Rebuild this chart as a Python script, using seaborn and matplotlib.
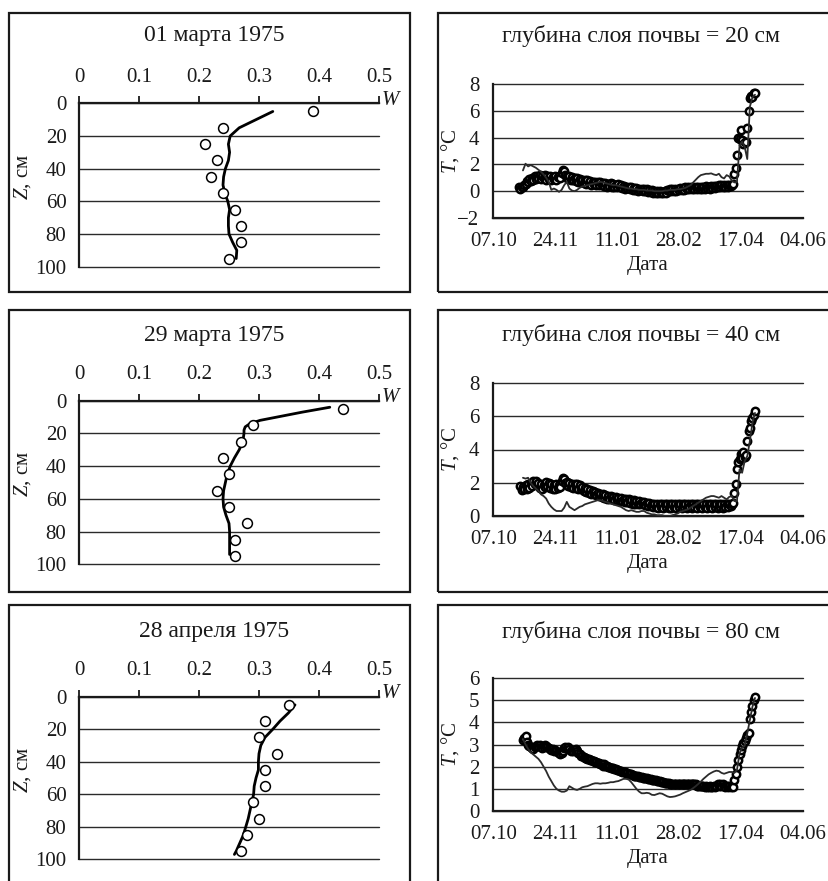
"""
Профили влажности почвы и температура почвы на глубинах 20, 40 и 80 см
"""

import numpy as np
import pandas as pd
import matplotlib
matplotlib.use("Agg")
import matplotlib.pyplot as plt
from matplotlib.patches import Rectangle
import seaborn as sns

nan = np.nan

# ---------------- профили влажности W(Z) ----------------
depth_obs = [5, 15, 25, 35, 45, 55, 65, 75, 85, 95]

W_obs_0103 = [0.39, 0.24, 0.21, 0.23, 0.22, 0.24, 0.26, 0.27, 0.27, 0.25]
W_obs_2903 = [0.44, 0.29, 0.27, 0.24, 0.25, 0.23, 0.25, 0.28, 0.26, 0.26]
W_obs_2804 = [0.35, 0.31, 0.30, 0.33, 0.31, 0.31, 0.29, 0.30, 0.28, 0.27]

depth_model_0103 = [5, 10, 15, 20, 25, 30, 35, 40, 45, 50,
                    55, 60, 65, 70, 75, 80, 85, 90, 95]
W_model_0103 = [0.323, 0.295, 0.267, 0.252, 0.249, 0.251, 0.249, 0.244, 0.241, 0.240,
                0.243, 0.248, 0.251, 0.249, 0.249, 0.250, 0.256, 0.263, 0.262]

depth_model_2903 = [4, 7, 10, 12, 14, 16, 18, 20, 25, 30, 35, 40,
                    45, 50, 55, 60, 65, 70, 75, 80, 85, 90, 94]
W_model_2903 = [0.418, 0.372, 0.330, 0.302, 0.285, 0.277, 0.275, 0.275, 0.273, 0.267,
                0.259, 0.252, 0.247, 0.244, 0.241, 0.240, 0.241, 0.245, 0.250, 0.251,
                0.251, 0.251, 0.251]

depth_model_2804 = [5, 10, 15, 20, 25, 30, 35, 40, 45, 50,
                    55, 60, 65, 70, 75, 80, 85, 90, 95, 97]
W_model_2804 = [0.360, 0.349, 0.335, 0.323, 0.310, 0.303, 0.300, 0.299, 0.299, 0.295,
                0.292, 0.291, 0.288, 0.285, 0.282, 0.278, 0.274, 0.268, 0.262, 0.259]

profile_titles = ["01 марта 1975", "29 марта 1975", "28 апреля 1975"]
w_ticks = [0, 0.1, 0.2, 0.3, 0.4, 0.5]
w_tick_labels = ["0", "0.1", "0.2", "0.3", "0.4", "0.5"]
z_ticks = [0, 20, 40, 60, 80, 100]

# ---------------- температура почвы T(t) ----------------
obs_dates = pd.date_range("1974-10-27", "1975-04-28", freq="D")
model_dates = pd.date_range("1974-10-30", "1975-04-28", freq="2D")

T20_obs = (
    [0.3, 0.2, 0.35, 0.3, 0.5]
    + [0.55, 0.75, 0.65, 0.9, 0.75, 1.0, 0.85, 1.1, 0.9, 1.15,
       0.95, 1.2, 0.9, 1.15, 0.95, 1.2, 0.85, 1.1, 0.9, 1.15,
       0.85, 1.05, 0.9, 1.1, 0.85, 1.05, 1.15, 1.0, 1.35, 1.6]
    + [1.5, 1.2, 1.1, 0.9, 1.15, 0.85, 1.05, 0.8, 1.0, 0.75,
       0.95, 0.7, 0.9, 0.65, 0.85, 0.6, 0.8, 0.55, 0.8, 0.6,
       0.75, 0.5, 0.7, 0.55, 0.7, 0.45, 0.65, 0.5, 0.65, 0.45, 0.6]
    + [0.4, 0.6, 0.35, 0.55, 0.4, 0.6, 0.35, 0.55, 0.3, 0.5,
       0.35, 0.55, 0.3, 0.45, 0.25, 0.4, 0.2, 0.35, 0.25, 0.35,
       0.15, 0.3, 0.1, 0.25, 0.1, 0.25, 0.05, 0.2, 0.1, 0.2, 0.0]
    + [0.15, 0.0, 0.15, -0.05, 0.1, -0.05, 0.1, -0.1, 0.05, -0.1,
       0.05, -0.15, 0.0, -0.15, -0.05, -0.15, 0.05, -0.1, 0.1, 0.0,
       0.15, 0.0, 0.15, 0.05, 0.2, 0.05, 0.2, 0.1]
    + [0.25, 0.1, 0.25, 0.1, 0.3, 0.15, 0.3, 0.15, 0.3, 0.15,
       0.3, 0.2, 0.35, 0.2, 0.35, 0.2, 0.35, 0.2, 0.35, 0.2,
       0.4, 0.25, 0.35, 0.2, 0.4, 0.25, 0.4, 0.25, 0.4, 0.3, 0.45]
    + [0.3, 0.45, 0.3, 0.45, 0.35, 0.5, 0.35, 0.5, 0.4, 0.45,
       0.55, 1.25, 1.75, 2.7, 4.0, 3.9, 4.6, 3.8, 3.5, 3.7,
       3.65, 4.7, 6.0, 6.95, 7.1, 7.0, 7.3, 7.35]
)
T20_model = (
    [1.55]
    + [2.05, 1.85, 1.95, 1.85, 1.75, 1.6, 1.45, 1.25, 1.0, 0.7,
       0.1, 0.2, 0.1, -0.05, 0.1]
    + [0.45, 0.7, 0.2, 0.05, 0.0, 0.1, 0.25, 0.35, 0.4, 0.45,
       0.5, 0.55, 0.6, 0.65, 0.7, 0.65]
    + [0.6, 0.55, 0.5, 0.45, 0.45, 0.4, 0.35, 0.3, 0.25, 0.2,
       0.2, 0.15, 0.15, 0.1, 0.1]
    + [0.1, 0.05, 0.05, 0.05, 0.0, 0.0, 0.0, 0.0, 0.05, 0.05,
       0.1, 0.1, 0.1, 0.15]
    + [0.15, 0.2, 0.25, 0.35, 0.45, 0.65, 0.85, 1.05, 1.2, 1.25,
       1.3, 1.3, 1.33, 1.25, 1.2, 1.3]
    + [1.05, 0.95, 1.2, 1.1, 0.8, 0.65, 0.7, 3.4, 3.7, 3.3,
       2.4, 6.3, 7.0, 7.2]
)

T40_obs = (
    [nan, 1.8, 1.55, 1.75, 1.6]
    + [1.85, 1.65, 1.9, 1.7, 2.0, 1.8, 2.1, 1.9, 2.1, 1.85,
       2.0, 1.7, 1.9, 1.6, 1.85, 1.75, 2.05, 1.8, 2.0, 1.7,
       1.9, 1.6, 1.85, 1.65, 1.9, 1.7, 1.85, 1.75, 2.1, 2.3]
    + [2.25, 2.0, 2.05, 1.8, 2.0, 1.75, 1.95, 1.7, 1.9, 1.7,
       1.9, 1.65, 1.85, 1.6, 1.75, 1.5, 1.7, 1.45, 1.6, 1.4,
       1.55, 1.35, 1.5, 1.3, 1.45, 1.25, 1.4, 1.2, 1.35, 1.15, 1.3]
    + [1.1, 1.25, 1.05, 1.2, 1.0, 1.2, 1.0, 1.15, 0.95, 1.15,
       0.95, 1.1, 0.9, 1.1, 0.9, 1.05, 0.85, 1.0, 0.85, 1.0,
       0.8, 0.95, 0.75, 0.95, 0.75, 0.9, 0.7, 0.9, 0.7, 0.85, 0.7]
    + [0.85, 0.65, 0.8, 0.6, 0.8, 0.6, 0.75, 0.55, 0.75, 0.55,
       0.75, 0.5, 0.7, 0.55, 0.7, 0.5, 0.7, 0.55, 0.7, 0.5,
       0.7, 0.5, 0.7, 0.55, 0.7, 0.5, 0.7, 0.55]
    + [0.7, 0.5, 0.75, 0.55, 0.7, 0.5, 0.75, 0.55, 0.7, 0.5,
       0.7, 0.55, 0.75, 0.5, 0.7, 0.55, 0.75, 0.5, 0.7, 0.55,
       0.75, 0.5, 0.7, 0.55, 0.75, 0.5, 0.7, 0.55, 0.75, 0.5, 0.7]
    + [0.55, 0.75, 0.5, 0.7, 0.55, 0.75, 0.55, 0.7, 0.6, 0.75,
       0.8, 1.4, 1.95, 2.8, 3.25, 3.4, 3.7, 3.5, 3.85, 3.55,
       3.65, 4.5, 5.1, 5.3, 5.7, 5.9, 6.1, 6.3]
)
T40_model = (
    [2.3]
    + [2.25, 2.3, 2.0, 1.8, 1.65, 1.5, 1.3, 1.2, 1.05, 0.75,
       0.55, 0.4, 0.3, 0.3, 0.3]
    + [0.5, 0.85, 0.55, 0.45, 0.35, 0.45, 0.55, 0.6, 0.7, 0.75,
       0.8, 0.85, 0.9, 0.95, 0.95, 0.9]
    + [0.85, 0.8, 0.75, 0.7, 0.65, 0.6, 0.55, 0.45, 0.35, 0.3,
       0.35, 0.3, 0.25, 0.25, 0.3]
    + [0.3, 0.2, 0.15, 0.1, 0.1, 0.05, 0.05, 0.05, 0.0, 0.0,
       0.0, 0.05, 0.1, 0.15]
    + [0.25, 0.3, 0.35, 0.4, 0.5, 0.6, 0.7, 0.8, 0.9, 1.0,
       1.1, 1.15, 1.2, 1.2, 1.15, 1.1]
    + [1.2, 1.1, 1.0, 1.15, 1.2, 0.9, 0.9, 2.8, 2.6, 3.3,
       3.6, 4.5, 5.6, 6.2]
)

T80_obs = (
    [nan, nan, nan, 3.2, 3.3]
    + [3.4, 3.1, 3.0, 2.95, 2.9, 2.85, 2.8, 2.9, 2.95, 3.0,
       2.95, 3.0, 2.9, 2.85, 2.9, 3.0, 2.95, 2.9, 2.85, 2.8,
       2.75, 2.8, 2.7, 2.75, 2.7, 2.65, 2.6, 2.55, 2.6, 2.7]
    + [2.85, 2.9, 2.85, 2.9, 2.8, 2.7, 2.75, 2.7, 2.75, 2.8,
       2.7, 2.6, 2.55, 2.5, 2.5, 2.45, 2.4, 2.4, 2.35, 2.35,
       2.3, 2.3, 2.25, 2.25, 2.2, 2.2, 2.15, 2.15, 2.1, 2.1, 2.05]
    + [2.1, 2.05, 2.05, 2.0, 2.0, 1.95, 1.95, 1.93, 1.9, 1.88,
       1.85, 1.83, 1.8, 1.8, 1.78, 1.76, 1.75, 1.72, 1.7, 1.68,
       1.66, 1.65, 1.63, 1.6, 1.6, 1.58, 1.57, 1.55, 1.53, 1.52, 1.5]
    + [1.5, 1.48, 1.47, 1.46, 1.44, 1.43, 1.42, 1.4, 1.4, 1.39,
       1.37, 1.35, 1.34, 1.32, 1.3, 1.3, 1.28, 1.27, 1.26, 1.25,
       1.23, 1.22, 1.2, 1.2, 1.2, 1.2, 1.2, 1.2]
    + [1.2, 1.2, 1.2, 1.2, 1.2, 1.2, 1.2, 1.2, 1.2, 1.2,
       1.2, 1.2, 1.2, 1.15, 1.15, 1.15, 1.15, 1.15, 1.15, 1.1,
       1.15, 1.1, 1.1, 1.15, 1.1, 1.1, 1.15, 1.1, 1.15, 1.2, 1.15]
    + [1.2, 1.15, 1.2, 1.15, 1.1, 1.15, 1.1, 1.15, 1.1, 1.15,
       1.1, 1.4, 1.65, 2.0, 2.3, 2.55, 2.75, 2.95, 3.05, 3.15,
       3.3, 3.45, 3.5, 4.15, 4.45, 4.75, 5.0, 5.15]
)
T80_model = (
    [3.25]
    + [3.0, 2.8, 2.65, 2.55, 2.45, 2.35, 2.2, 2.0, 1.8, 1.55,
       1.35, 1.15, 1.0, 0.92, 0.87]
    + [0.87, 0.92, 1.12, 1.05, 0.98, 0.95, 1.0, 1.07, 1.1, 1.12,
       1.17, 1.22, 1.25, 1.25, 1.23, 1.25]
    + [1.25, 1.27, 1.3, 1.3, 1.33, 1.35, 1.4, 1.45, 1.45, 1.42,
       1.3, 1.15, 1.0, 0.88, 0.8]
    + [0.8, 0.82, 0.8, 0.73, 0.72, 0.76, 0.8, 0.78, 0.72, 0.66,
       0.63, 0.64, 0.66, 0.7]
    + [0.74, 0.8, 0.85, 0.9, 0.95, 1.03, 1.12, 1.22, 1.33, 1.45,
       1.55, 1.65, 1.72, 1.78, 1.82, 1.8]
    + [1.72, 1.68, 1.72, 1.76, 1.76, 1.72, 1.85, 2.6, 2.85, 2.95,
       3.5, 4.1, 4.7, 5.1]
)

temp_titles = ["глубина слоя почвы = 20 см",
               "глубина слоя почвы = 40 см",
               "глубина слоя почвы = 80 см"]
T_ticks_20 = [-2, 0, 2, 4, 6, 8]
T_ticks_40 = [0, 2, 4, 6, 8]
T_ticks_80 = [0, 1, 2, 3, 4, 5, 6]
date_ticks = ["1974-10-07", "1974-11-24", "1975-01-11",
              "1975-02-28", "1975-04-17", "1975-06-04"]
date_tick_labels = ["07.10", "24.11", "11.01", "28.02", "17.04", "04.06"]

# ---------------- оформление ----------------
FIG_W, FIG_H = 829, 881
FS = 15
INK = "#1a1a1a"

sns.set_style("white")
plt.rcParams["font.family"] = ["Liberation Serif", "DejaVu Serif"]
plt.rcParams["mathtext.fontset"] = "custom"
plt.rcParams["mathtext.rm"] = "Liberation Serif"
plt.rcParams["mathtext.it"] = "Liberation Serif:italic"
plt.rcParams["axes.unicode_minus"] = True


def px_box(x0, y0, x1, y1):
    """пиксели (отсчёт сверху) -> [left, bottom, width, height] в долях фигуры"""
    return [x0 / FIG_W, 1 - y1 / FIG_H, (x1 - x0) / FIG_W, (y1 - y0) / FIG_H]


def unclip_grid(ax):
    # линии сетки на границе оси не должны обрезаться наполовину
    for gl in ax.yaxis.get_gridlines():
        gl.set_clip_on(False)


def draw_profile(ax, w_obs, depth_m, w_model):
    sns.lineplot(x=w_model, y=depth_m, sort=False, estimator=None,
                 color="black", lw=2.0, ax=ax, zorder=3)
    sns.scatterplot(x=w_obs, y=depth_obs, marker="o", s=50, color="white",
                    edgecolor="black", linewidth=1.1, ax=ax, zorder=4)
    ax.set_xlim(0, 0.5)
    ax.set_ylim(100, 0)
    ax.set_xticks(w_ticks, labels=w_tick_labels)
    ax.set_yticks(z_ticks)
    ax.xaxis.tick_top()
    ax.tick_params(axis="x", direction="out", length=5, width=1.3,
                   pad=7, labelsize=FS, colors=INK)
    ax.tick_params(axis="y", direction="out", length=5, width=1.3,
                   pad=4, labelsize=FS, colors=INK)
    ax.grid(axis="y", color="#2a2a2a", lw=1.0)
    ax.grid(axis="x", visible=False)
    unclip_grid(ax)
    for side in ("right", "bottom"):
        ax.spines[side].set_visible(False)
    for side in ("top", "left"):
        ax.spines[side].set_color(INK)
        ax.spines[side].set_linewidth(1.6)
    ax.set_xlabel("")
    ax.set_ylabel(r"$Z$, см", fontsize=FS, color=INK)
    ax.yaxis.set_label_coords(-0.152, 0.55)
    ax.text(1.008, 1.02, r"$W$", transform=ax.transAxes, ha="left",
            va="center", fontsize=FS, color=INK)


def draw_temp(ax, T_obs, T_model, y_ticks):
    sns.scatterplot(x=obs_dates, y=T_obs, marker="o", s=28, color="white",
                    edgecolor="black", linewidth=1.8, ax=ax, zorder=3)
    sns.lineplot(x=model_dates, y=T_model, estimator=None, color="#2b2b2b",
                 lw=1.3, ax=ax, zorder=4)
    ax.set_xlim(pd.Timestamp(date_ticks[0]), pd.Timestamp(date_ticks[-1]))
    ax.set_ylim(y_ticks[0], y_ticks[-1])
    ax.set_xticks(pd.to_datetime(date_ticks), labels=date_tick_labels)
    ax.set_yticks(y_ticks)
    ax.tick_params(axis="both", direction="out", length=5, width=1.3,
                   pad=5, labelsize=FS, colors=INK)
    ax.grid(axis="y", color="#2a2a2a", lw=1.0)
    ax.grid(axis="x", visible=False)
    unclip_grid(ax)
    for side in ("right", "top"):
        ax.spines[side].set_visible(False)
    for side in ("bottom", "left"):
        ax.spines[side].set_color(INK)
        ax.spines[side].set_linewidth(1.6)
    ax.set_xlabel("Дата", fontsize=FS, color=INK, labelpad=4)
    ax.set_ylabel(r"$T$, °C", fontsize=FS, color=INK)
    ax.yaxis.set_label_coords(-0.105, 0.5)


fig = plt.figure(figsize=(FIG_W / 100, FIG_H / 100), dpi=100)

# рамки панелей
row_tops = [13, 310, 605]
row_bottoms = [292, 592, 895]
for top, bottom in zip(row_tops, row_bottoms):
    for x0, x1 in ((9, 410), (438, 845)):
        fig.add_artist(Rectangle((x0 / FIG_W, 1 - bottom / FIG_H),
                                 (x1 - x0) / FIG_W, (bottom - top) / FIG_H,
                                 transform=fig.transFigure, fill=False,
                                 lw=1.6, edgecolor=INK))

# левая колонка: профили влажности
profile_axes = [(103.3, 266.7), (400.7, 564.3), (696.7, 859.3)]
profiles = [(W_obs_0103, depth_model_0103, W_model_0103),
            (W_obs_2903, depth_model_2903, W_model_2903),
            (W_obs_2804, depth_model_2804, W_model_2804)]
title_y = [36, 335, 632]
for (y0, y1), (w_obs, d_m, w_m), title, ty in zip(profile_axes, profiles,
                                                   profile_titles, title_y):
    ax = fig.add_axes(px_box(79, y0, 379, y1))
    draw_profile(ax, w_obs, d_m, w_m)
    fig.text(214 / FIG_W, 1 - ty / FIG_H, title, ha="center", va="center",
             fontsize=17, color=INK)

# правая колонка: температура почвы
temp_axes = [(84, 218), (383, 516), (678, 811)]
temps = [(T20_obs, T20_model, T_ticks_20),
         (T40_obs, T40_model, T_ticks_40),
         (T80_obs, T80_model, T_ticks_80)]
for (y0, y1), (t_obs, t_m, yt), title, ty in zip(temp_axes, temps,
                                                  temp_titles, title_y):
    ax = fig.add_axes(px_box(493.3, y0, 802.7, y1))
    draw_temp(ax, t_obs, t_m, yt)
    fig.text(641 / FIG_W, 1 - ty / FIG_H, title, ha="center", va="center",
             fontsize=17, color=INK)

fig.savefig("out.png", dpi=100)
plt.close(fig)
